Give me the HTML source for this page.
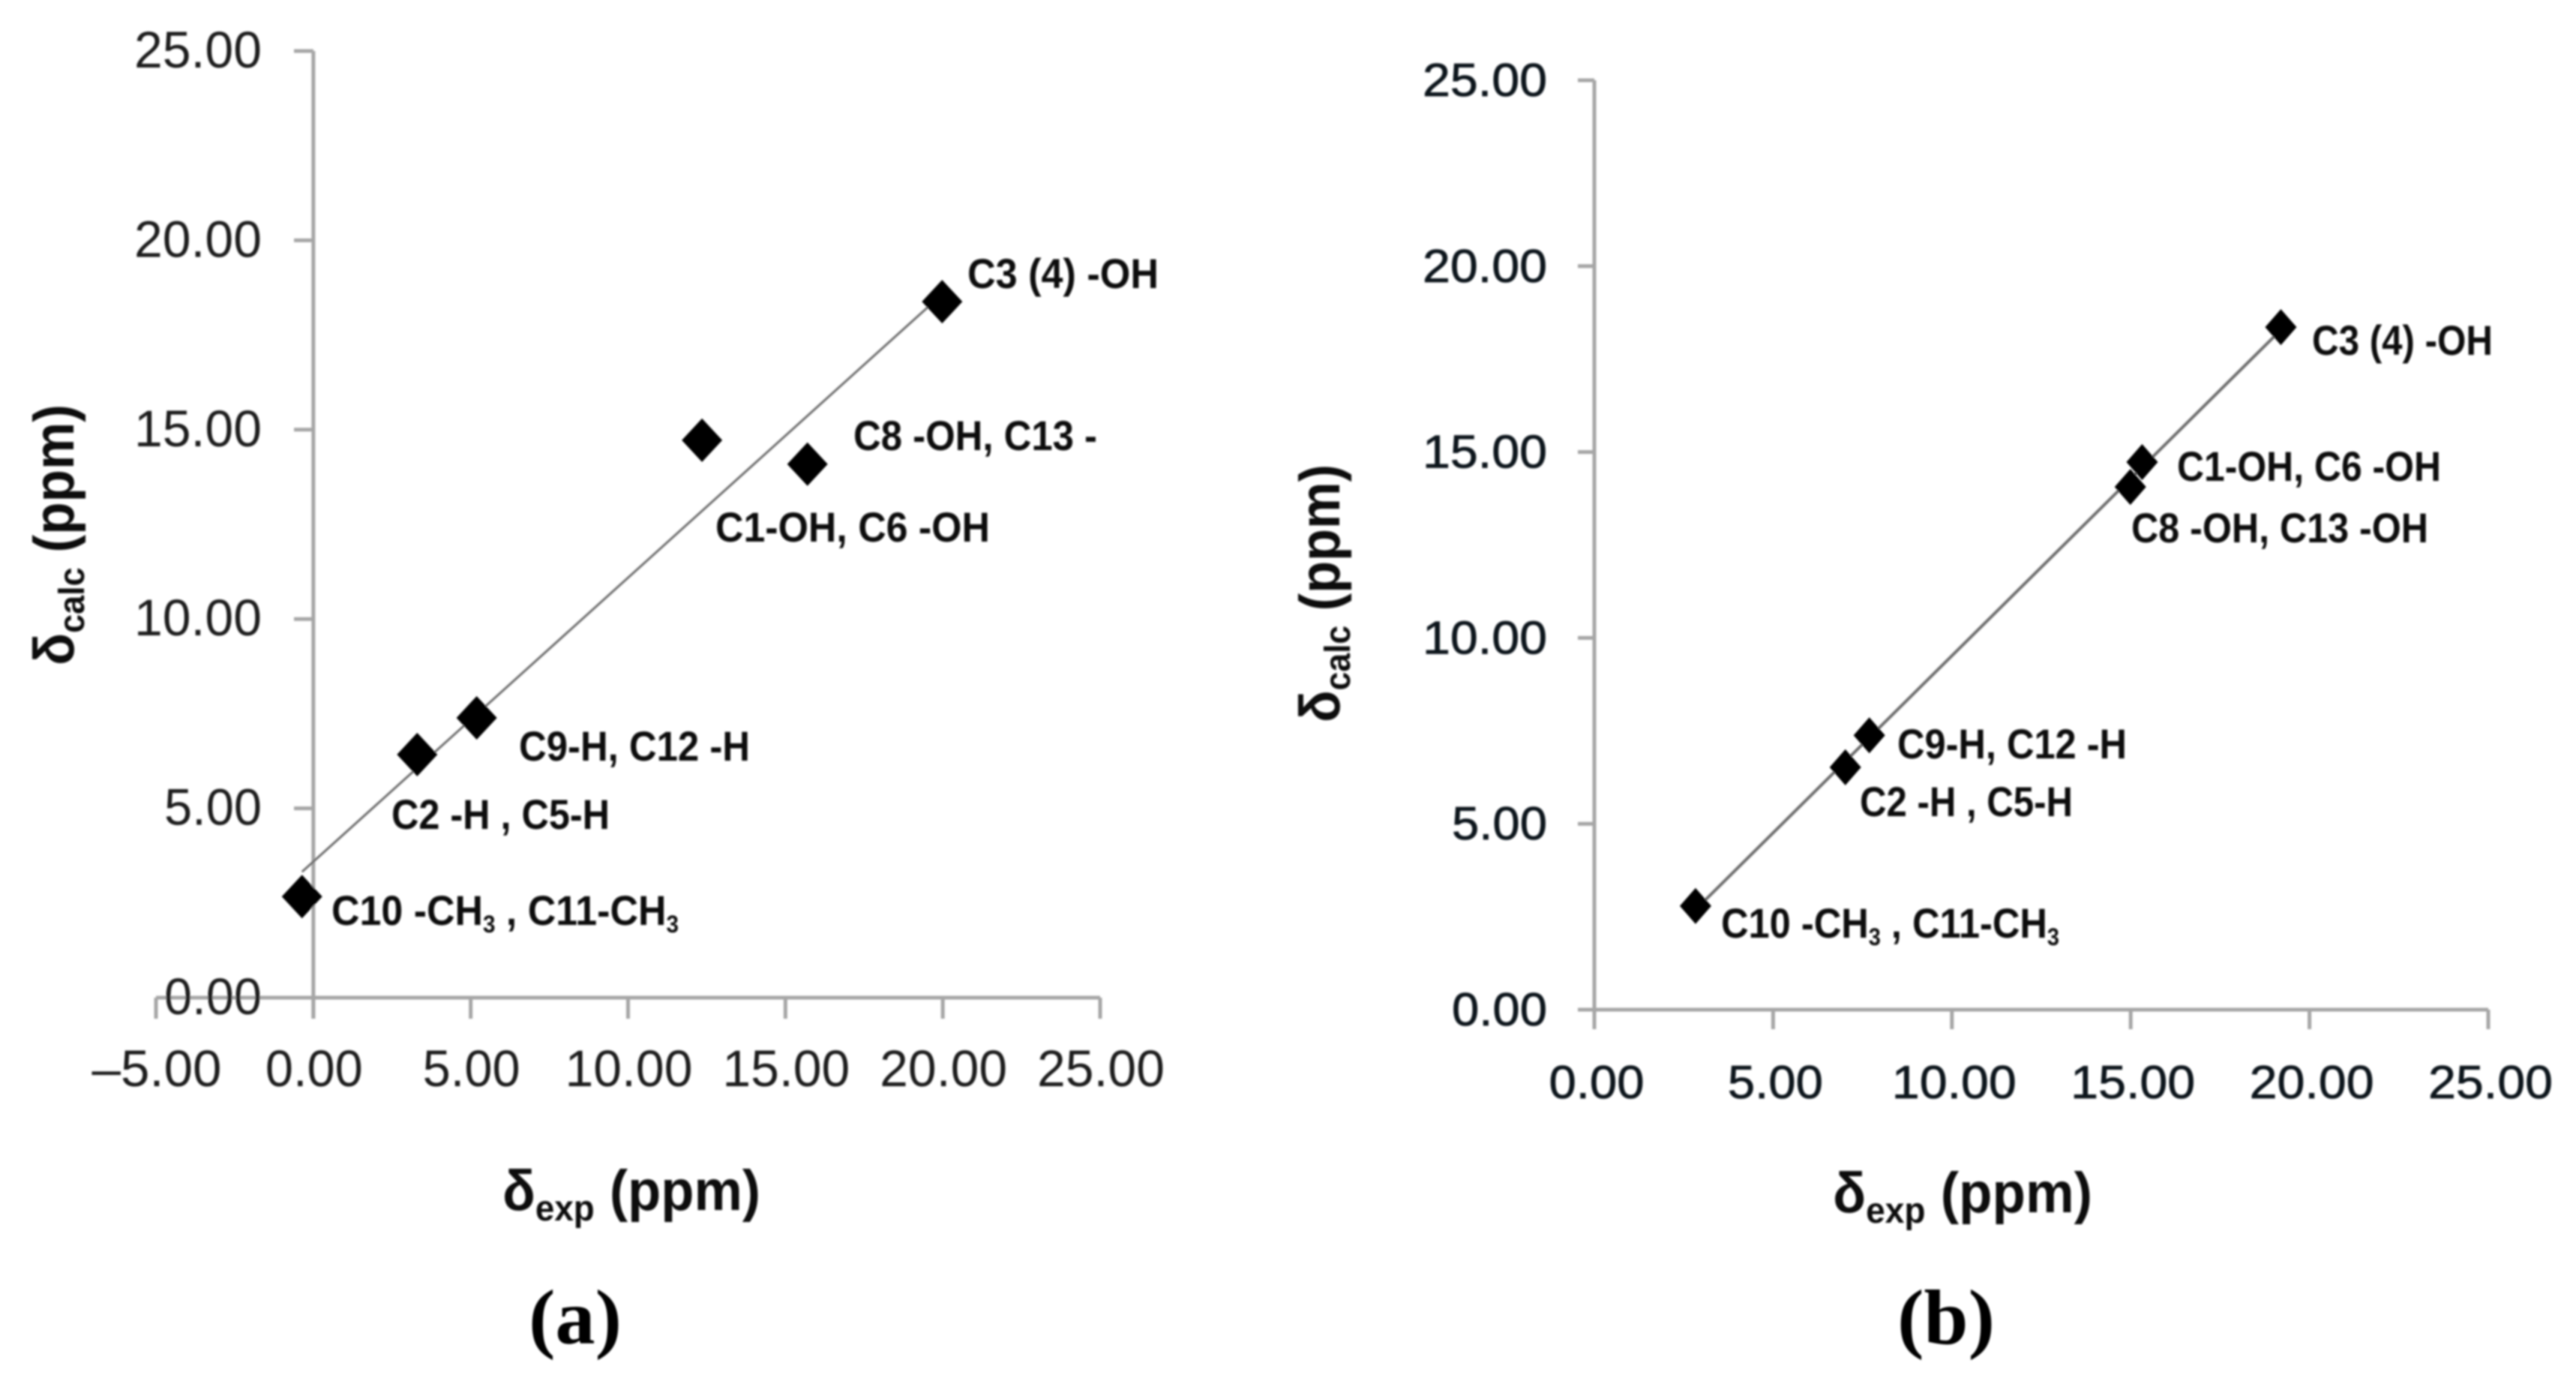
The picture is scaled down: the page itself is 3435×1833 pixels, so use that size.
<!DOCTYPE html>
<html lang="en">
<head>
<meta charset="utf-8">
<title>Calculated vs experimental chemical shifts</title>
<style>
html,body{margin:0;padding:0;background:#fff;}
svg{display:block;}
text{font-family:"Liberation Sans",sans-serif;}
.tick-a{font-size:69px;fill:#1e1e1e;}
.tick-b{font-size:62px;fill:#10161f;stroke:#10161f;stroke-width:0.8px;}
.ann{font-size:56px;font-weight:bold;fill:#111;}
.title{font-size:76px;font-weight:bold;fill:#111;}
.panel{font-family:"Liberation Serif",serif;font-size:104px;font-weight:bold;fill:#000;}
</style>
</head>
<body>
<svg id="figure" xmlns="http://www.w3.org/2000/svg" width="3435" height="1833" viewBox="0 0 3435 1833">
  <defs><filter id="soft" x="-2%" y="-2%" width="104%" height="104%"><feGaussianBlur stdDeviation="1.2"/></filter></defs>
  <rect width="3435" height="1833" fill="#fff"/>
  <g filter="url(#soft)">
    <g id="chart-a"></g>
    <g id="chart-b"></g>

    <g>
      <text class="ann" x="1290" y="384" textLength="255" lengthAdjust="spacingAndGlyphs">C3 (4) -OH</text>
      <text class="ann" x="1138" y="600" textLength="325" lengthAdjust="spacingAndGlyphs">C8 -OH, C13 -</text>
      <text class="ann" x="954" y="722" textLength="366" lengthAdjust="spacingAndGlyphs">C1-OH, C6 -OH</text>
      <text class="ann" x="692" y="1014" textLength="308" lengthAdjust="spacingAndGlyphs">C9-H, C12 -H</text>
      <text class="ann" x="522" y="1105" textLength="291" lengthAdjust="spacingAndGlyphs">C2 -H , C5-H</text>
      <text class="ann" x="442" y="1233" textLength="463" lengthAdjust="spacingAndGlyphs">C10 -CH<tspan font-size="32" dy="10">3</tspan><tspan dy="-10"> , C11-CH</tspan><tspan font-size="32" dy="10">3</tspan></text>
    </g>

    <g>
      <text class="ann" x="3083" y="473" textLength="241" lengthAdjust="spacingAndGlyphs">C3 (4) -OH</text>
      <text class="ann" x="2903" y="641" textLength="352" lengthAdjust="spacingAndGlyphs">C1-OH, C6 -OH</text>
      <text class="ann" x="2842" y="723" textLength="396" lengthAdjust="spacingAndGlyphs">C8 -OH, C13 -OH</text>
      <text class="ann" x="2530" y="1011" textLength="306" lengthAdjust="spacingAndGlyphs">C9-H, C12 -H</text>
      <text class="ann" x="2480" y="1088" textLength="284" lengthAdjust="spacingAndGlyphs">C2 -H , C5-H</text>
      <text class="ann" x="2295" y="1250" textLength="451" lengthAdjust="spacingAndGlyphs">C10 -CH<tspan font-size="32" dy="10">3</tspan><tspan dy="-10"> , C11-CH</tspan><tspan font-size="32" dy="10">3</tspan></text>
    </g>

    <text class="title" x="670" y="1613" textLength="344" lengthAdjust="spacingAndGlyphs">δ<tspan font-size="48" dy="14">exp</tspan><tspan dy="-14"> (ppm)</tspan></text>
    <text class="title" x="2444" y="1616" textLength="346" lengthAdjust="spacingAndGlyphs">δ<tspan font-size="48" dy="14">exp</tspan><tspan dy="-14"> (ppm)</tspan></text>
    <text class="title" transform="translate(98,887) rotate(-90)" textLength="348" lengthAdjust="spacingAndGlyphs">δ<tspan font-size="48" dy="14">calc</tspan><tspan dy="-14"> (ppm)</tspan></text>
    <text class="title" transform="translate(1786,963) rotate(-90)" textLength="344" lengthAdjust="spacingAndGlyphs">δ<tspan font-size="48" dy="14">calc</tspan><tspan dy="-14"> (ppm)</tspan></text>

    <text class="panel" x="705" y="1791" textLength="124" lengthAdjust="spacingAndGlyphs">(a)</text>
    <text class="panel" x="2530" y="1791" textLength="130" lengthAdjust="spacingAndGlyphs">(b)</text>
  </g>
</svg>
<script>
// Panel (a) data
const expA = [-0.36, 3.30, 5.19, 12.35, 15.70, 19.98];
const calcA = [2.67, 6.42, 7.39, 14.72, 14.09, 18.38];
const xTicksA = [-5, 0, 5, 10, 15, 20, 25];
const xTickLabelsA = ["–5.00", "0.00", "5.00", "10.00", "15.00", "20.00", "25.00"];
const yTicksA = [0, 5, 10, 15, 20, 25];
const yTickLabelsA = ["0.00", "5.00", "10.00", "15.00", "20.00", "25.00"];

// Panel (b) data
const expB = [2.83, 7.02, 7.69, 14.99, 15.32, 19.20];
const calcB = [2.79, 6.52, 7.38, 14.06, 14.73, 18.36];
const xTicksB = [0, 5, 10, 15, 20, 25];
const xTickLabelsB = ["0.00", "5.00", "10.00", "15.00", "20.00", "25.00"];
const yTicksB = [0, 5, 10, 15, 20, 25];
const yTickLabelsB = ["0.00", "5.00", "10.00", "15.00", "20.00", "25.00"];

const NS = "http://www.w3.org/2000/svg";

function linearScale(d0, d1, r0, r1) {
  return function (v) { return r0 + (v - d0) * (r1 - r0) / (d1 - d0); };
}

function fitLine(xs, ys) {
  const n = xs.length;
  const mx = xs.reduce(function (a, b) { return a + b; }, 0) / n;
  const my = ys.reduce(function (a, b) { return a + b; }, 0) / n;
  let sxy = 0, sxx = 0;
  xs.forEach(function (x, i) { sxy += (x - mx) * (ys[i] - my); sxx += (x - mx) * (x - mx); });
  const slope = sxy / sxx;
  return { slope: slope, intercept: my - slope * mx };
}

function makeEl(parent, tag, attrs) {
  const el = document.createElementNS(NS, tag);
  Object.keys(attrs).forEach(function (k) { el.setAttribute(k, attrs[k]); });
  parent.appendChild(el);
  return el;
}

function labelWidth(label, cfg) {
  if (label.charAt(0) === "–") return cfg.wideWidth;
  return label.length >= 5 ? cfg.longWidth : cfg.shortWidth;
}

function drawChart(root, xs, ys, xTicks, xLabels, yTicks, yLabels, cfg) {
  const sx = linearScale(xTicks[0], xTicks[xTicks.length - 1], cfg.left, cfg.right);
  const sy = linearScale(yTicks[0], yTicks[yTicks.length - 1], cfg.bottom, cfg.top);
  const axisStyle = { stroke: "#a6a6a6", "stroke-width": 5, fill: "none" };
  const zeroX = sx(0);

  const yAxis = makeEl(root, "line", Object.assign({ x1: zeroX, x2: zeroX, y1: cfg.top, y2: cfg.tickBottom }, axisStyle));
  
  

  const xAxis = makeEl(root, "line", Object.assign({ x1: cfg.axisLeft, x2: cfg.right, y1: cfg.bottom, y2: cfg.bottom }, axisStyle));
  
  

  xTicks.forEach(function (t, i) {
    const tick = makeEl(root, "line", Object.assign({ x1: sx(t), x2: sx(t), y1: cfg.bottom, y2: cfg.tickBottom }, axisStyle));
    
    
    const label = makeEl(root, "text", { x: sx(t) + cfg.xLabelShift, y: cfg.xLabelY, "text-anchor": "middle", "class": cfg.tickClass, textLength: labelWidth(xLabels[i], cfg), lengthAdjust: "spacingAndGlyphs" });
    label.textContent = xLabels[i];
    
    
  });

  yTicks.forEach(function (t, i) {
    const tick = makeEl(root, "line", Object.assign({ x1: cfg.yTickLeft, x2: zeroX, y1: sy(t), y2: sy(t) }, axisStyle));
    
    
    const label = makeEl(root, "text", { x: cfg.yLabelRight, y: sy(t) + cfg.yLabelDrop, "text-anchor": "end", "class": cfg.tickClass, textLength: labelWidth(yLabels[i], cfg), lengthAdjust: "spacingAndGlyphs" });
    label.textContent = yLabels[i];
    
    
  });

  const fit = fitLine(xs, ys);
  const xMin = Math.min.apply(null, xs);
  const xMax = Math.max.apply(null, xs);
  const trend = makeEl(root, "line", { x1: sx(xMin), y1: sy(fit.slope * xMin + fit.intercept), x2: sx(xMax), y2: sy(fit.slope * xMax + fit.intercept), stroke: "#6e6e6e", "stroke-width": cfg.trendWidth });
  
  

  xs.forEach(function (x, i) {
    const cx = sx(x), cy = sy(ys[i]);
    const pts = [[cx, cy - cfg.markH], [cx + cfg.markW, cy], [cx, cy + cfg.markH], [cx - cfg.markW, cy]].map(function (p) { return p.join(","); }).join(" ");
    const point = makeEl(root, "polygon", { points: pts, fill: "#000" });
    
    
  });
}

drawChart(document.getElementById("chart-a"), expA, calcA, xTicksA, xTickLabelsA, yTicksA, yTickLabelsA, {
  left: 208, right: 1467, top: 68, bottom: 1330, axisLeft: 208, tickBottom: 1358, yTickLeft: 392,
  yLabelRight: 349, yLabelDrop: 22, xLabelY: 1448, xLabelShift: 1, tickClass: "tick-a",
  longWidth: 170, shortWidth: 130, wideWidth: 173, markW: 27, markH: 29, trendWidth: 3
});

drawChart(document.getElementById("chart-b"), expB, calcB, xTicksB, xTickLabelsB, yTicksB, yTickLabelsB, {
  left: 2126, right: 3318, top: 107, bottom: 1346, axisLeft: 2104, tickBottom: 1372, yTickLeft: 2104,
  yLabelRight: 2063, yLabelDrop: 21, xLabelY: 1464, xLabelShift: 3, tickClass: "tick-b",
  longWidth: 166, shortWidth: 127, wideWidth: 166, markW: 21, markH: 24, trendWidth: 4
});
</script>
</body>
</html>
